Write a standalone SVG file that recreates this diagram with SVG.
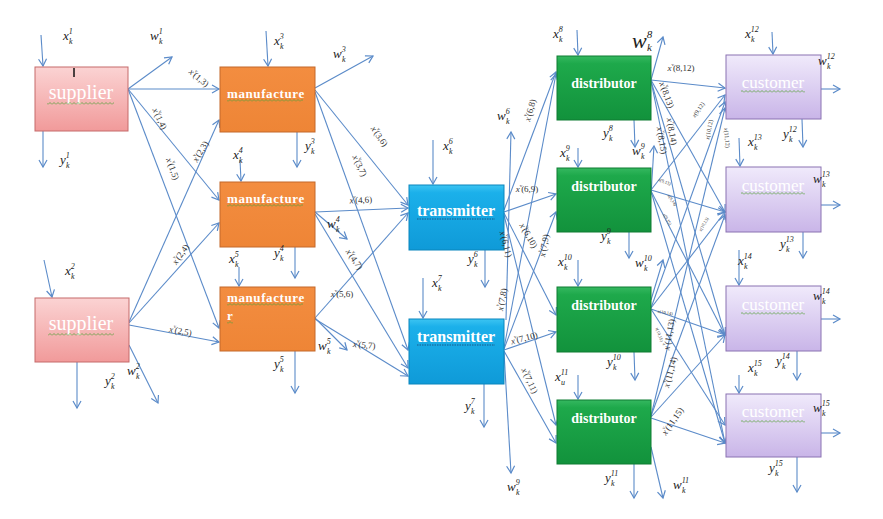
<svg xmlns="http://www.w3.org/2000/svg" width="883" height="519" viewBox="0 0 883 519">
<style>
.c{fill:none;stroke:#5b8bc9;stroke-width:1.1;marker-end:url(#ah)}
.v{font-family:"Liberation Serif",serif;font-style:italic;font-size:13px;fill:#222}
.s{font-size:8px}
.f{font-family:"Liberation Serif",serif;font-size:9px;fill:#333;text-anchor:middle}
.f6{font-size:6px}
.f4{font-size:4.5px}
.xi{font-style:italic}
.vv{font-size:5px}
.bt{font-family:"Liberation Serif",serif;fill:#fff;text-anchor:middle}
.mt{font-family:"Liberation Serif",serif;fill:#fff;text-anchor:start;font-size:13px;font-weight:bold;letter-spacing:0.6px}
.sup{stroke:#c56a6a;stroke-width:1;fill:url(#gS)}
.man{stroke:#c4682a;stroke-width:1;fill:url(#gM)}
.tra{stroke:#0a86bd;stroke-width:1;fill:url(#gT)}
.dis{stroke:#0e7d33;stroke-width:1;fill:url(#gD)}
.cus{stroke:#8a72b2;stroke-width:1;fill:url(#gC)}
</style>
<defs>
<marker id="ah" markerWidth="10" markerHeight="10" refX="8" refY="5" orient="auto" markerUnits="userSpaceOnUse"><path d="M1,1 L8,5 L1,9" fill="none" stroke="#5b8bc9" stroke-width="1.2"/></marker>
<linearGradient id="gS" x1="0" y1="0" x2="0" y2="1"><stop offset="0" stop-color="#fbd3d3"/><stop offset="1" stop-color="#f19a9a"/></linearGradient>
<linearGradient id="gM" x1="0" y1="0" x2="0" y2="1"><stop offset="0" stop-color="#f38d40"/><stop offset="1" stop-color="#ee8536"/></linearGradient>
<linearGradient id="gT" x1="0" y1="0" x2="0" y2="1"><stop offset="0" stop-color="#3cc4f2"/><stop offset="0.12" stop-color="#1bb0ea"/><stop offset="1" stop-color="#0f9ad8"/></linearGradient>
<linearGradient id="gD" x1="0" y1="0" x2="0" y2="1"><stop offset="0" stop-color="#35b860"/><stop offset="0.12" stop-color="#1ea94b"/><stop offset="1" stop-color="#12923c"/></linearGradient>
<linearGradient id="gC" x1="0" y1="0" x2="0" y2="1"><stop offset="0" stop-color="#f0eafb"/><stop offset="1" stop-color="#c9b5e8"/></linearGradient>
<pattern id="sq" width="4" height="3" patternUnits="userSpaceOnUse"><path d="M0,2.5 L2,0.5 L4,2.5" fill="none" stroke="#58a03c" stroke-width="0.8"/></pattern>
</defs>
<rect width="883" height="519" fill="#fff"/>

<g id="connectors">
<line class="c" x1="41" y1="35" x2="43" y2="66"/>
<line class="c" x1="43" y1="131" x2="43" y2="167"/>
<line class="c" x1="128" y1="89" x2="172" y2="57"/>
<line class="c" x1="128" y1="89" x2="219" y2="89"/>
<line class="c" x1="128" y1="89" x2="219" y2="200"/>
<line class="c" x1="128" y1="89" x2="219" y2="328"/>
<line class="c" x1="44" y1="260" x2="52" y2="297"/>
<line class="c" x1="77" y1="362" x2="77" y2="408"/>
<line class="c" x1="129" y1="345" x2="158" y2="403"/>
<line class="c" x1="129" y1="322" x2="219" y2="120"/>
<line class="c" x1="129" y1="323" x2="219" y2="223"/>
<line class="c" x1="129" y1="325" x2="219" y2="342"/>
<line class="c" x1="266" y1="31" x2="268" y2="66"/>
<line class="c" x1="315" y1="88" x2="373" y2="56"/>
<line class="c" x1="297" y1="132" x2="297" y2="167"/>
<line class="c" x1="315" y1="90" x2="408" y2="205"/>
<line class="c" x1="315" y1="92" x2="408" y2="350"/>
<line class="c" x1="240" y1="160" x2="241" y2="181"/>
<line class="c" x1="315" y1="212" x2="408" y2="208"/>
<line class="c" x1="315" y1="212" x2="347" y2="239"/>
<line class="c" x1="315" y1="214" x2="408" y2="368"/>
<line class="c" x1="295" y1="247" x2="295" y2="278"/>
<line class="c" x1="239" y1="267" x2="239" y2="286"/>
<line class="c" x1="315" y1="318" x2="408" y2="213"/>
<line class="c" x1="315" y1="318" x2="347" y2="350"/>
<line class="c" x1="315" y1="319" x2="408" y2="376"/>
<line class="c" x1="295" y1="351" x2="295" y2="393"/>
<line class="c" x1="433" y1="140" x2="433" y2="184"/>
<line class="c" x1="485" y1="250" x2="485" y2="287"/>
<line class="c" x1="506" y1="320" x2="511" y2="132"/>
<line class="c" x1="504" y1="210" x2="556" y2="72"/>
<line class="c" x1="504" y1="212" x2="556" y2="194"/>
<line class="c" x1="504" y1="213" x2="556" y2="315"/>
<line class="c" x1="504" y1="215" x2="556" y2="425"/>
<line class="c" x1="423" y1="278" x2="423" y2="318"/>
<line class="c" x1="484" y1="384" x2="484" y2="427"/>
<line class="c" x1="504" y1="352" x2="511" y2="473"/>
<line class="c" x1="504" y1="348" x2="556" y2="74"/>
<line class="c" x1="504" y1="349" x2="556" y2="212"/>
<line class="c" x1="504" y1="350" x2="556" y2="332"/>
<line class="c" x1="504" y1="351" x2="556" y2="443"/>
<line class="c" x1="577" y1="30" x2="578" y2="55"/>
<line class="c" x1="651" y1="80" x2="663" y2="37"/>
<line class="c" x1="634" y1="120" x2="635" y2="147"/>
<line class="c" x1="578" y1="148" x2="578" y2="167"/>
<line class="c" x1="651" y1="195" x2="654" y2="146"/>
<line class="c" x1="629" y1="232" x2="629" y2="258"/>
<line class="c" x1="578" y1="260" x2="578" y2="286"/>
<line class="c" x1="651" y1="300" x2="663" y2="260"/>
<line class="c" x1="634" y1="352" x2="635" y2="380"/>
<line class="c" x1="578" y1="375" x2="578" y2="399"/>
<line class="c" x1="651" y1="447" x2="663" y2="498"/>
<line class="c" x1="634" y1="464" x2="634" y2="498"/>
<line class="c" x1="651" y1="80" x2="725" y2="88"/>
<line class="c" x1="651" y1="80" x2="725" y2="212"/>
<line class="c" x1="651" y1="81" x2="725" y2="335"/>
<line class="c" x1="651" y1="81" x2="725" y2="443"/>
<line class="c" x1="651" y1="190" x2="725" y2="95"/>
<line class="c" x1="651" y1="190" x2="725" y2="212"/>
<line class="c" x1="651" y1="191" x2="725" y2="335"/>
<line class="c" x1="651" y1="191" x2="725" y2="443"/>
<line class="c" x1="651" y1="308" x2="725" y2="102"/>
<line class="c" x1="651" y1="308" x2="725" y2="212"/>
<line class="c" x1="651" y1="309" x2="725" y2="335"/>
<line class="c" x1="651" y1="309" x2="725" y2="425"/>
<line class="c" x1="651" y1="416" x2="725" y2="108"/>
<line class="c" x1="651" y1="416" x2="725" y2="215"/>
<line class="c" x1="651" y1="417" x2="725" y2="335"/>
<line class="c" x1="651" y1="418" x2="725" y2="443"/>
<line class="c" x1="772" y1="32" x2="773" y2="54"/>
<line class="c" x1="821" y1="89" x2="840" y2="89"/>
<line class="c" x1="802" y1="119" x2="803" y2="147"/>
<line class="c" x1="739" y1="138" x2="740" y2="166"/>
<line class="c" x1="821" y1="205" x2="840" y2="205"/>
<line class="c" x1="803" y1="232" x2="803" y2="258"/>
<line class="c" x1="739" y1="250" x2="739" y2="285"/>
<line class="c" x1="821" y1="319" x2="840" y2="319"/>
<line class="c" x1="797" y1="351" x2="797" y2="380"/>
<line class="c" x1="739" y1="375" x2="739" y2="393"/>
<line class="c" x1="821" y1="433" x2="840" y2="433"/>
<line class="c" x1="797" y1="457" x2="797" y2="492"/>
</g>

<g id="supplier1">
<rect class="sup" x="35" y="67" width="93" height="64"/>
<text class="bt" x="81" y="99" style="font-size:20px">supplier</text>
<rect x="47" y="102" width="67" height="3" fill="url(#sq)"/>
<line x1="74" y1="68" x2="74" y2="77" stroke="#111" stroke-width="1.5"/>
</g>
<g id="supplier2">
<rect class="sup" x="35" y="298" width="94" height="64"/>
<text class="bt" x="81" y="330" style="font-size:20px">supplier</text>
<rect x="48" y="333" width="66" height="3" fill="url(#sq)"/>
</g>
<g id="manufacture1">
<rect class="man" x="220" y="67" width="95" height="65"/>
<text class="mt" x="227" y="98">manufacture</text>
<rect x="227" y="99" width="76" height="3" fill="url(#sq)"/>
</g>
<g id="manufacture2">
<rect class="man" x="220" y="182" width="95" height="65"/>
<text class="mt" x="227" y="203">manufacture</text>
<rect x="227" y="204" width="76" height="3" fill="url(#sq)"/>
</g>
<g id="manufacture3">
<rect class="man" x="220" y="287" width="95" height="64"/>
<text class="mt" x="227" y="302">manufacture</text>
<text class="mt" x="227" y="320">r</text>
<rect x="227" y="303" width="76" height="3" fill="url(#sq)"/>
<rect x="227" y="321" width="6" height="3" fill="url(#sq)"/>
</g>
<g id="transmitter1">
<rect class="tra" x="409" y="185" width="95" height="65"/>
<text class="bt" x="456" y="216" style="font-size:16px;font-weight:bold">transmitter</text>
<line x1="417" y1="219" x2="495" y2="219" stroke="#1a5a8a" stroke-width="1" stroke-dasharray="1.5,1"/>
</g>
<g id="transmitter2">
<rect class="tra" x="409" y="319" width="95" height="65"/>
<text class="bt" x="456" y="342" style="font-size:16px;font-weight:bold">transmitter</text>
<line x1="417" y1="345" x2="495" y2="345" stroke="#1a5a8a" stroke-width="1" stroke-dasharray="1.5,1"/>
</g>
<g id="distributor1">
<rect class="dis" x="557" y="56" width="94" height="64"/>
<text class="bt" x="604" y="88" style="font-size:14px;font-weight:bold">distributor</text>
</g>
<g id="distributor2">
<rect class="dis" x="557" y="168" width="94" height="64"/>
<text class="bt" x="604" y="191" style="font-size:14px;font-weight:bold">distributor</text>
</g>
<g id="distributor3">
<rect class="dis" x="557" y="287" width="94" height="65"/>
<text class="bt" x="604" y="310" style="font-size:14px;font-weight:bold">distributor</text>
</g>
<g id="distributor4">
<rect class="dis" x="557" y="400" width="94" height="64"/>
<text class="bt" x="604" y="423" style="font-size:14px;font-weight:bold">distributor</text>
</g>
<g id="customer1">
<rect class="cus" x="726" y="55" width="95" height="64"/>
<text class="bt" x="773" y="88" style="font-size:17px">customer</text>
<rect x="741" y="90" width="64" height="3" fill="url(#sq)"/>
</g>
<g id="customer2">
<rect class="cus" x="726" y="167" width="95" height="65"/>
<text class="bt" x="773" y="191" style="font-size:17px">customer</text>
<rect x="741" y="192" width="64" height="3" fill="url(#sq)"/>
</g>
<g id="customer3">
<rect class="cus" x="726" y="286" width="95" height="65"/>
<text class="bt" x="773" y="310" style="font-size:17px">customer</text>
<rect x="741" y="312" width="64" height="3" fill="url(#sq)"/>
</g>
<g id="customer4">
<rect class="cus" x="726" y="394" width="95" height="63"/>
<text class="bt" x="773" y="417" style="font-size:17px">customer</text>
<rect x="741" y="420" width="64" height="3" fill="url(#sq)"/>
</g>

<g id="var-labels">
<text class="v" x="63" y="40">x<tspan class="s" dy="-6">1</tspan><tspan class="s" x="69" dy="10">k</tspan></text>
<text class="v" x="150" y="40">w<tspan class="s" dy="-6">1</tspan><tspan class="s" x="159" dy="10">k</tspan></text>
<text class="v" x="60" y="164">y<tspan class="s" dy="-6">1</tspan><tspan class="s" x="66" dy="10">k</tspan></text>
<text class="v" x="65" y="275">x<tspan class="s" dy="-6">2</tspan><tspan class="s" x="71" dy="10">k</tspan></text>
<text class="v" x="105" y="385">y<tspan class="s" dy="-6">2</tspan><tspan class="s" x="111" dy="10">k</tspan></text>
<text class="v" x="127" y="375">w<tspan class="s" dy="-6">2</tspan><tspan class="s" x="136" dy="10">k</tspan></text>
<text class="v" x="274" y="45">x<tspan class="s" dy="-6">3</tspan><tspan class="s" x="280" dy="10">k</tspan></text>
<text class="v" x="333" y="58">w<tspan class="s" dy="-6">3</tspan><tspan class="s" x="342" dy="10">k</tspan></text>
<text class="v" x="305" y="150">y<tspan class="s" dy="-6">3</tspan><tspan class="s" x="311" dy="10">k</tspan></text>
<text class="v" x="233" y="159">x<tspan class="s" dy="-6">4</tspan><tspan class="s" x="239" dy="10">k</tspan></text>
<text class="v" x="327" y="228">w<tspan class="s" dy="-6">4</tspan><tspan class="s" x="336" dy="10">k</tspan></text>
<text class="v" x="274" y="257">y<tspan class="s" dy="-6">4</tspan><tspan class="s" x="280" dy="10">k</tspan></text>
<text class="v" x="229" y="263">x<tspan class="s" dy="-6">5</tspan><tspan class="s" x="235" dy="10">k</tspan></text>
<text class="v" x="318" y="350">w<tspan class="s" dy="-6">5</tspan><tspan class="s" x="327" dy="10">k</tspan></text>
<text class="v" x="274" y="368">y<tspan class="s" dy="-6">5</tspan><tspan class="s" x="280" dy="10">k</tspan></text>
<text class="v" x="443" y="150">x<tspan class="s" dy="-6">6</tspan><tspan class="s" x="449" dy="10">k</tspan></text>
<text class="v" x="497" y="120">w<tspan class="s" dy="-6">6</tspan><tspan class="s" x="506" dy="10">k</tspan></text>
<text class="v" x="468" y="263">y<tspan class="s" dy="-6">6</tspan><tspan class="s" x="474" dy="10">k</tspan></text>
<text class="v" x="432" y="287">x<tspan class="s" dy="-6">7</tspan><tspan class="s" x="438" dy="10">k</tspan></text>
<text class="v" x="465" y="410">y<tspan class="s" dy="-6">7</tspan><tspan class="s" x="471" dy="10">k</tspan></text>
<text class="v" x="507" y="491">w<tspan class="s" dy="-6">9</tspan><tspan class="s" x="516" dy="10">k</tspan></text>
<text class="v" x="553" y="38">x<tspan class="s" dy="-6">8</tspan><tspan class="s" x="559" dy="10">k</tspan></text>
<text class="v" x="632" y="48" style="font-size:22px">w<tspan style="font-size:11px" dy="-10">8</tspan><tspan style="font-size:11px" x="647" dy="13">k</tspan></text>
<text class="v" x="603" y="137">y<tspan class="s" dy="-6">8</tspan><tspan class="s" x="609" dy="10">k</tspan></text>
<text class="v" x="560" y="157">x<tspan class="s" dy="-6">9</tspan><tspan class="s" x="566" dy="10">k</tspan></text>
<text class="v" x="632" y="155">w<tspan class="s" dy="-6">9</tspan><tspan class="s" x="641" dy="10">k</tspan></text>
<text class="v" x="601" y="240">y<tspan class="s" dy="-6">9</tspan><tspan class="s" x="607" dy="10">k</tspan></text>
<text class="v" x="558" y="266">x<tspan class="s" dy="-6">10</tspan><tspan class="s" x="564" dy="10">k</tspan></text>
<text class="v" x="635" y="267">w<tspan class="s" dy="-6">10</tspan><tspan class="s" x="644" dy="10">k</tspan></text>
<text class="v" x="607" y="366">y<tspan class="s" dy="-6">10</tspan><tspan class="s" x="613" dy="10">k</tspan></text>
<text class="v" x="555" y="381">x<tspan class="s" dy="-6">11</tspan><tspan class="s" x="561" dy="10">u</tspan></text>
<text class="v" x="605" y="482">y<tspan class="s" dy="-6">11</tspan><tspan class="s" x="611" dy="10">k</tspan></text>
<text class="v" x="673" y="489">w<tspan class="s" dy="-6">11</tspan><tspan class="s" x="682" dy="10">k</tspan></text>
<text class="v" x="745" y="38">x<tspan class="s" dy="-6">12</tspan><tspan class="s" x="751" dy="10">k</tspan></text>
<text class="v" x="818" y="65">w<tspan class="s" dy="-6">12</tspan><tspan class="s" x="827" dy="10">k</tspan></text>
<text class="v" x="783" y="138">y<tspan class="s" dy="-6">12</tspan><tspan class="s" x="789" dy="10">k</tspan></text>
<text class="v" x="748" y="146">x<tspan class="s" dy="-6">13</tspan><tspan class="s" x="754" dy="10">k</tspan></text>
<text class="v" x="813" y="183">w<tspan class="s" dy="-6">13</tspan><tspan class="s" x="822" dy="10">k</tspan></text>
<text class="v" x="780" y="248">y<tspan class="s" dy="-6">13</tspan><tspan class="s" x="786" dy="10">k</tspan></text>
<text class="v" x="738" y="265">x<tspan class="s" dy="-6">14</tspan><tspan class="s" x="744" dy="10">k</tspan></text>
<text class="v" x="813" y="300">w<tspan class="s" dy="-6">14</tspan><tspan class="s" x="822" dy="10">k</tspan></text>
<text class="v" x="776" y="365">y<tspan class="s" dy="-6">14</tspan><tspan class="s" x="782" dy="10">k</tspan></text>
<text class="v" x="748" y="372">x<tspan class="s" dy="-6">15</tspan><tspan class="s" x="754" dy="10">k</tspan></text>
<text class="v" x="813" y="412">w<tspan class="s" dy="-6">15</tspan><tspan class="s" x="822" dy="10">k</tspan></text>
<text class="v" x="769" y="472">y<tspan class="s" dy="-6">15</tspan><tspan class="s" x="775" dy="10">k</tspan></text>
</g>

<g id="flow-labels">
<text class="f" transform="translate(197,80) rotate(40)"><tspan class="xi">x</tspan><tspan class="vv" dy="-5">v</tspan><tspan dx="-1" dy="5">(1,3)</tspan></text>
<text class="f" transform="translate(157,120) rotate(65)"><tspan class="xi">x</tspan><tspan class="vv" dy="-5">v</tspan><tspan dx="-1" dy="5">(1,4)</tspan></text>
<text class="f" transform="translate(170,170) rotate(70)"><tspan class="xi">x</tspan><tspan class="vv" dy="-5">v</tspan><tspan dx="-1" dy="5">(1,5)</tspan></text>
<text class="f" transform="translate(203,153) rotate(-60)"><tspan class="xi">x</tspan><tspan class="vv" dy="-5">v</tspan><tspan dx="-1" dy="5">(2,3)</tspan></text>
<text class="f" transform="translate(183,256) rotate(-55)"><tspan class="xi">x</tspan><tspan class="vv" dy="-5">v</tspan><tspan dx="-1" dy="5">(2,4)</tspan></text>
<text class="f" transform="translate(180,334) rotate(10)"><tspan class="xi">x</tspan><tspan class="vv" dy="-5">v</tspan><tspan dx="-1" dy="5">(2,5)</tspan></text>
<text class="f" transform="translate(377,138) rotate(55)"><tspan class="xi">x</tspan><tspan class="vv" dy="-5">v</tspan><tspan dx="-1" dy="5">(3,6)</tspan></text>
<text class="f" transform="translate(357,167) rotate(65)"><tspan class="xi">x</tspan><tspan class="vv" dy="-5">v</tspan><tspan dx="-1" dy="5">(3,7)</tspan></text>
<text class="f" transform="translate(361,203) rotate(-3)"><tspan class="xi">x</tspan><tspan class="vv" dy="-5">v</tspan><tspan dx="-1" dy="5">(4,6)</tspan></text>
<text class="f" transform="translate(352,261) rotate(55)"><tspan class="xi">x</tspan><tspan class="vv" dy="-5">v</tspan><tspan dx="-1" dy="5">(4,7)</tspan></text>
<text class="f" transform="translate(342,297)"><tspan class="xi">x</tspan><tspan class="vv" dy="-5">v</tspan><tspan dx="-1" dy="5">(5,6)</tspan></text>
<text class="f" transform="translate(364,348) rotate(5)"><tspan class="xi">x</tspan><tspan class="vv" dy="-5">v</tspan><tspan dx="-1" dy="5">(5,7)</tspan></text>
<text class="f" transform="translate(533,111) rotate(-75)"><tspan class="xi">x</tspan><tspan class="vv" dy="-5">v</tspan><tspan dx="-1" dy="5">(6,8)</tspan></text>
<text class="f" transform="translate(527,192)"><tspan class="xi">x</tspan><tspan class="vv" dy="-5">v</tspan><tspan dx="-1" dy="5">(6,9)</tspan></text>
<text class="f" transform="translate(526,237) rotate(60)"><tspan class="xi">x</tspan><tspan class="vv" dy="-5">v</tspan><tspan dx="-1" dy="5">(6,10)</tspan></text>
<text class="f" transform="translate(503,245) rotate(75)"><tspan class="xi">x</tspan><tspan class="vv" dy="-5">v</tspan><tspan dx="-1" dy="5">(6,11)</tspan></text>
<text class="f" transform="translate(505,300) rotate(-80)"><tspan class="xi">x</tspan><tspan class="vv" dy="-5">v</tspan><tspan dx="-1" dy="5">(7,8)</tspan></text>
<text class="f" transform="translate(547,246) rotate(-80)"><tspan class="xi">x</tspan><tspan class="vv" dy="-5">v</tspan><tspan dx="-1" dy="5">(7,9)</tspan></text>
<text class="f" transform="translate(525,341) rotate(-15)"><tspan class="xi">x</tspan><tspan class="vv" dy="-5">v</tspan><tspan dx="-1" dy="5">(7,10)</tspan></text>
<text class="f" transform="translate(527,382) rotate(65)"><tspan class="xi">x</tspan><tspan class="vv" dy="-5">v</tspan><tspan dx="-1" dy="5">(7,11)</tspan></text>
<text class="f" transform="translate(681,71)"><tspan class="xi">x</tspan><tspan class="vv" dy="-5">v</tspan><tspan dx="-1" dy="5">(8,12)</tspan></text>
<text class="f" transform="translate(664,96) rotate(70)"><tspan class="xi">x</tspan><tspan class="vv" dy="-5">v</tspan><tspan dx="-1" dy="5">(8,13)</tspan></text>
<text class="f" transform="translate(669,132) rotate(80)"><tspan class="xi">x</tspan><tspan class="vv" dy="-5">v</tspan><tspan dx="-1" dy="5">(8,14)</tspan></text>
<text class="f" transform="translate(659,141) rotate(80)"><tspan class="xi">x</tspan><tspan class="vv" dy="-5">v</tspan><tspan dx="-1" dy="5">(8,15)</tspan></text>
<text class="f f6" transform="translate(700,111) rotate(-55)"><tspan class="xi">x</tspan>(9,12)</text>
<text class="f f6" transform="translate(711,130) rotate(-80)"><tspan class="xi">x</tspan>(10,12)</text>
<text class="f f6" transform="translate(725,138) rotate(85)"><tspan class="xi">x</tspan>(11,12)</text>
<text class="f f4" transform="translate(664,183) rotate(20)"><tspan class="xi">x</tspan>(9,13)</text>
<text class="f f4" transform="translate(671,201) rotate(55)"><tspan class="xi">x</tspan>(9,14)</text>
<text class="f f4" transform="translate(666,220) rotate(60)"><tspan class="xi">x</tspan>(9,15)</text>
<text class="f f4" transform="translate(705,225) rotate(-60)"><tspan class="xi">x</tspan>(10,13)</text>
<text class="f f4" transform="translate(665,314) rotate(10)"><tspan class="xi">x</tspan>(10,14)</text>
<text class="f f4" transform="translate(658,335) rotate(70)"><tspan class="xi">x</tspan>(10,15)</text>
<text class="f" transform="translate(672,335) rotate(-80)"><tspan class="xi">x</tspan><tspan class="vv" dy="-5">v</tspan><tspan dx="-1" dy="5">(11,13)</tspan></text>
<text class="f" transform="translate(673,373) rotate(-75)"><tspan class="xi">x</tspan><tspan class="vv" dy="-5">v</tspan><tspan dx="-1" dy="5">(11,14)</tspan></text>
<text class="f" transform="translate(675,423) rotate(-55)"><tspan class="xi">x</tspan><tspan class="vv" dy="-5">v</tspan><tspan dx="-1" dy="5">(11,15)</tspan></text>
</g>
</svg>
